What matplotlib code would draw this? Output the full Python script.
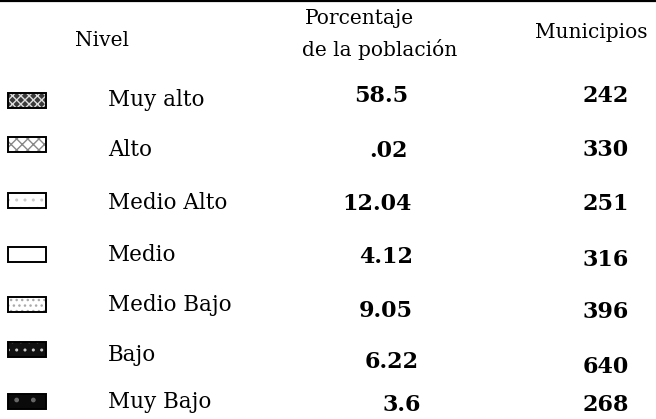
import matplotlib.pyplot as plt
from matplotlib.patches import Rectangle

# table contents
niveles = ["Muy alto", "Alto", "Medio Alto", "Medio", "Medio Bajo", "Bajo", "Muy Bajo"]
porcentaje = ["58.5", ".02", "12.04", "4.12", "9.05", "6.22", "3.6"]
municipios = ["242", "330", "251", "316", "396", "640", "268"]

# legend swatches (face, hatch, hatch colour)
swatch_face = ["#3a3a3a", "#ffffff", "#ffffff", "#ffffff", "#ffffff", "#111111", "#0a0a0a"]
swatch_hatch = ["xxxx", "xxx", "..", "", "...", "..", "."]
swatch_hcol = ["#dddddd", "#888888", "#cccccc", "#ffffff", "#aaaaaa", "#cccccc", "#666666"]

# layout in pixel coordinates (y grows downwards); the scan is a bit uneven
y_label = [100, 150, 203, 255, 305, 355, 402]
y_pct = [96, 151, 204, 257, 311, 362, 405]
y_mun = [96, 150, 204, 260, 312, 367, 405]
y_icon = [101, 144, 200, 254, 304, 349, 401]
x_pct = [408, 408, 412, 413, 413, 419, 421]

serif = "DejaVu Serif"

fig = plt.figure(figsize=(6.56, 4.19), dpi=100)
ax = fig.add_axes([0, 0, 1, 1])
ax.set_xlim(0, 656)
ax.set_ylim(419, 0)
ax.axis("off")

# top rule
ax.plot([0, 656], [1.5, 1.5], color="black", lw=1.6)

# headers
ax.text(102, 41, "Nivel", family=serif, fontsize=14.5, ha="center", va="center")
ax.text(305, 19, "Porcentaje", family=serif, fontsize=14.5, ha="left", va="center")
ax.text(302, 50, "de la población", family=serif, fontsize=14.5, ha="left", va="center")
ax.text(591, 33, "Municipios", family=serif, fontsize=14.5, ha="center", va="center")

for i, nivel in enumerate(niveles):
    # fill + pattern, then the frame on top
    ax.add_patch(Rectangle((8, y_icon[i] - 7.5), 38, 15, facecolor=swatch_face[i],
                           edgecolor=swatch_hcol[i], lw=0, hatch=swatch_hatch[i]))
    ax.add_patch(Rectangle((8, y_icon[i] - 7.5), 38, 15, facecolor="none",
                           edgecolor="black", lw=1.4))
    ax.text(108, y_label[i], nivel, family=serif, fontsize=15.5, ha="left", va="center")
    ax.text(x_pct[i], y_pct[i], porcentaje[i], family=serif, fontsize=16, fontweight="bold",
            ha="right", va="center")
    ax.text(629, y_mun[i], municipios[i], family=serif, fontsize=16, fontweight="bold",
            ha="right", va="center")

fig.savefig("out.png", dpi=100)
